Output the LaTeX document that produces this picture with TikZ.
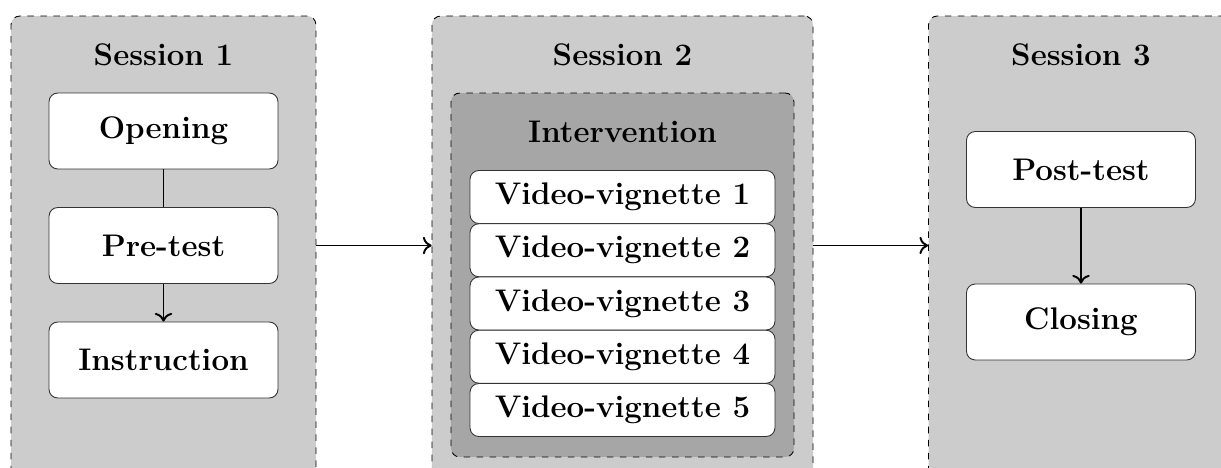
\documentclass[tikz,border=0pt]{standalone}
\usepackage{amsmath}
\usetikzlibrary{shapes,shapes.misc,arrows.meta}

\begin{document}
\begin{tikzpicture}[x=0.4608pt,y=-0.4608pt,font=\Large\bfseries,>={To[length=4pt,width=8pt]}]
   \tikzstyle{session}=[draw=black, dashed, fill=black!20, rounded corners=4pt, minimum height=223pt, inner sep=0pt]
   \tikzstyle{main}=[draw=black!80, fill=white, rounded corners=4pt, minimum width=105.5pt, minimum height=35pt]
   \tikzstyle{vignette}=[draw=black!80, fill=white, rounded corners=4pt, minimum width=140.5pt, minimum height=24.4pt, inner sep=0pt]
   \tikzstyle{link}=[line width=0.9pt]
   \clip (0,0) rectangle (1221,468);
   % sessions
   \node[session, minimum width=140.5pt] (s1) at (163.5,258) {};
   \node[session, minimum width=175.6pt] (s2) at (622.5,258) {};
   \node[session, minimum width=140.5pt] (s3) at (1081,258) {};
   \node (t1) at (163.5,55) {Session 1};
   \node (t2) at (622.5,55) {Session 2};
   \node (t3) at (1081,55) {Session 3};
   % session 1
   \node[main] (opening) at (163.5,131) {Opening};
   \node[main] (pretest) at (163.5,245.5) {Pre-test};
   \node[main] (instruction) at (163.5,360) {Instruction};
   \draw[link] (opening) -- (pretest);
   \draw[link,->] (pretest) -- (instruction);
   % session 2
   \node[session, fill=black!35, minimum width=158pt, minimum height=167.7pt] (intervention) at (622.5,275) {};
   \node (t4) at (622.5,132) {Intervention};
   \foreach \i in {1,...,5} {
       \node[vignette] (v\i) at (622.5,{197+53.25*(\i-1)}) {Video-vignette \i};
   }
   % session 3
   \node[main] (posttest) at (1081,169.5) {Post-test};
   \node[main] (closing) at (1081,322) {Closing};
   \draw[link,->] (posttest) -- (closing);
   \draw[link,->] (s1.east |- pretest) -- (s2.west |- pretest);
   \draw[link,->] (s2.east |- pretest) -- (s3.west |- pretest);
\end{tikzpicture}
\end{document}
